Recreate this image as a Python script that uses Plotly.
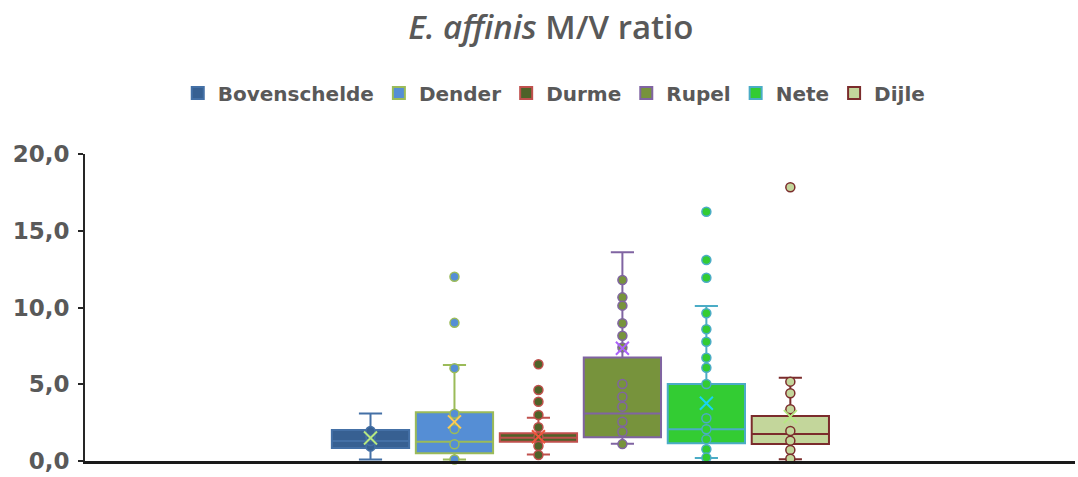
import plotly.graph_objects as go

# Rivers (series) and their box statistics
rivers = ["Bovenschelde", "Dender", "Durme", "Rupel", "Nete", "Dijle"]
q1 = [0.85, 0.5, 1.26, 1.54, 1.15, 1.11]
median = [1.3, 1.26, 1.52, 3.1, 2.07, 1.76]
q3 = [2.02, 3.17, 1.8, 6.75, 5.02, 2.93]
lower_whisker = [0.1, 0.1, 0.42, 1.12, 0.2, 0.12]
upper_whisker = [3.1, 6.25, 2.82, 13.6, 10.1, 5.42]
mean = [1.5, 2.55, 1.58, 7.34, 3.76, 2.89]

# Individual observations per river
points = {
    "Bovenschelde": [0.95, 1.3, 1.6, 1.95],
    "Dender": [12.0, 9.0, 6.05, 3.08, 2.08, 1.09, 0.1],
    "Durme": [6.3, 4.63, 3.86, 3.0, 2.2, 1.55, 0.98, 0.39],
    "Rupel": [11.79, 10.66, 10.12, 8.97, 8.16, 7.4, 5.02, 4.19, 3.54, 2.56, 1.91, 1.1],
    "Nete": [16.24, 13.1, 11.94, 9.62, 8.58, 7.77, 6.73, 6.08, 5.02,
             2.78, 2.07, 1.41, 0.76, 0.22],
    "Dijle": [17.83, 5.17, 4.41, 3.37, 1.95, 1.32, 0.72, 0.15],
}

fill_colors = ["#376092", "#558ED5", "#4F6228", "#77933C", "#33CC33", "#C3D69B"]
line_colors = ["#4470A6", "#9BBB59", "#C0504D", "#8064A2", "#4BACC6", "#7B2C2C"]

positions = list(range(len(rivers)))
box_width = 0.92

fig = go.Figure()

for i, name in enumerate(rivers):
    fig.add_trace(go.Box(
        name=name,
        x=[positions[i]],
        q1=[q1[i]], median=[median[i]], q3=[q3[i]],
        lowerfence=[lower_whisker[i]], upperfence=[upper_whisker[i]],
        width=box_width,
        whiskerwidth=0.3,
        fillcolor=fill_colors[i],
        line=dict(color=line_colors[i], width=2),
        boxpoints=False,
        hoverinfo="skip",
    ))

for i, name in enumerate(rivers):
    vals = points[name]
    fig.add_trace(go.Scatter(
        x=[positions[i]] * len(vals), y=vals,
        mode="markers",
        marker=dict(symbol="circle", size=9, color=fill_colors[i],
                    line=dict(color=line_colors[i], width=1.5)),
        showlegend=False, hoverinfo="skip", cliponaxis=False,
    ))
    fig.add_trace(go.Scatter(
        x=[positions[i]], y=[mean[i]],
        mode="markers",
        marker=dict(symbol="x-thin-open", size=13,
                    line=dict(color=line_colors[i], width=2)),
        showlegend=False, hoverinfo="skip", cliponaxis=False,
    ))

fig.update_layout(
    width=1078, height=477,
    margin=dict(l=85, r=3, t=154, b=16),
    paper_bgcolor="white", plot_bgcolor="white",
    boxmode="overlay",
    title=dict(
        text="<i>E. affinis</i> M/V ratio",
        x=0.511, xanchor="center", y=0.943, yanchor="middle",
        font=dict(family="Open Sans", size=33, color="#595959", weight=600),
    ),
    legend=dict(
        orientation="h", x=0.474, xanchor="center", y=1.199, yanchor="middle",
        font=dict(family="DejaVu Sans", size=20, color="#595959", weight="bold"),
        itemwidth=30, traceorder="normal",
    ),
    xaxis=dict(
        range=[-3.40, 8.39], showticklabels=False, showgrid=False,
        zeroline=False, showline=True, linecolor="#1a1a1a", linewidth=3,
        ticks="",
    ),
    yaxis=dict(
        range=[0, 20], tickvals=[0, 5, 10, 15, 20],
        ticktext=["0,0", "5,0", "10,0", "15,0", "20,0"],
        showgrid=False, zeroline=False, showline=True,
        linecolor="#262626", linewidth=2, ticks="outside", ticklen=5,
        tickcolor="#262626", tickwidth=2, ticklabelstandoff=4,
        tickfont=dict(family="DejaVu Sans", size=23, color="#595959", weight="bold"),
    ),
)

fig.write_html("out.html")
